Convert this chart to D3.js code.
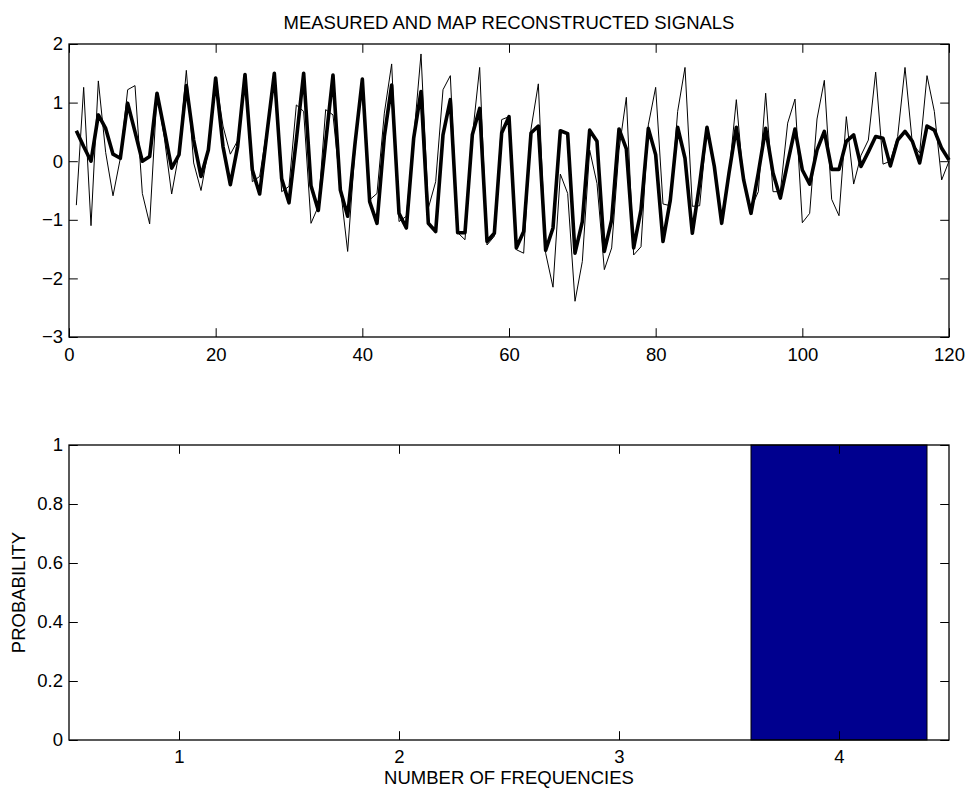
<!DOCTYPE html>
<html>
<head>
<meta charset="utf-8">
<script src="https://cdn.jsdelivr.net/npm/d3@7/dist/d3.min.js"></script>
<style>
  html, body { margin: 0; padding: 0; background: #fff; }
  svg { display: block; }
  text { font-family: "Liberation Sans", Arial, sans-serif; fill: #000; }
</style>
</head>
<body>
<svg id="chart" width="969" height="792"></svg>
<script>
// ---------------- DATA ----------------
const measured = [
  -0.75, 1.26, -1.10, 1.37, 0.15, -0.59, 0.05, 1.22, 1.29, -0.55,
  -1.07, 1.16, 0.40, -0.56, 0.14, 1.55, -0.03, -0.50, 0.19, 1.43,
  0.60, 0.12, 0.35, 1.48, -0.35, -0.26, 0.55, 1.50, -0.52, -0.43,
  0.96, 0.85, -1.06, -0.77, 0.88, 0.79, -0.45, -1.54, 0.20, 1.40,
  -0.66, -0.55, 0.82, 1.66, -1.03, -0.94, 0.39, 1.83, -0.80, -0.35,
  1.22, 1.46, -1.22, -1.34, 0.42, 1.60, -1.43, -1.28, 0.71, 0.76,
  -1.51, -1.57, 0.55, 1.32, -1.57, -2.15, -0.22, -0.55, -2.39, -1.71,
  0.19, -0.38, -1.85, -1.48, 0.19, 1.09, -1.60, -1.46, 0.62, 1.26,
  -0.73, -0.76, 0.85, 1.60, -0.77, -0.76, 0.58, -0.05, -1.06, -0.22,
  1.05, -0.38, -0.80, -0.52, 1.16, -0.52, -0.52, 0.65, 1.06, -1.05,
  -0.89, 0.72, 1.38, -0.65, -0.93, 0.76, -0.39, 0.10, 0.36, 1.52,
  -0.05, 0.00, 0.42, 1.60, 0.31, 0.14, 1.46, 0.85, -0.32, 0.00
];
const reconstructed = [
  0.52, 0.25, 0.00, 0.79, 0.56, 0.12, 0.05, 0.99, 0.50, 0.00,
  0.08, 1.16, 0.53, -0.12, 0.11, 1.29, 0.36, -0.26, 0.19, 1.42,
  0.25, -0.40, 0.25, 1.48, -0.15, -0.56, 0.48, 1.50, -0.30, -0.71,
  0.36, 1.50, -0.42, -0.84, 0.32, 1.47, -0.49, -0.94, 0.30, 1.40,
  -0.69, -1.06, 0.42, 1.30, -0.89, -1.14, 0.39, 1.19, -1.06, -1.20,
  0.45, 1.05, -1.22, -1.22, 0.45, 0.90, -1.37, -1.23, 0.48, 0.76,
  -1.48, -1.20, 0.48, 0.60, -1.52, -1.14, 0.52, 0.47, -1.57, -1.03,
  0.53, 0.34, -1.54, -1.00, 0.55, 0.21, -1.48, -0.83, 0.56, 0.11,
  -1.37, -0.66, 0.58, 0.05, -1.23, -0.38, 0.58, -0.09, -1.06, -0.20,
  0.58, -0.32, -0.89, -0.20, 0.56, -0.20, -0.63, -0.03, 0.55, -0.15,
  -0.39, 0.19, 0.51, -0.14, -0.14, 0.34, 0.45, -0.09, 0.16, 0.42,
  0.39, -0.08, 0.36, 0.51, 0.34, -0.03, 0.60, 0.53, 0.22, 0.02
];
const sampleIndex = d3.range(1, 121);

const topXTicks = [0, 20, 40, 60, 80, 100, 120];
const topYTicks = [-3, -2, -1, 0, 1, 2];

const numFrequencies = [1, 2, 3, 4];
const probability = [0, 0, 0, 1];
const botYTicks = [0, 0.2, 0.4, 0.6, 0.8, 1];

const titleText = "MEASURED AND MAP RECONSTRUCTED SIGNALS";
const xLabelText = "NUMBER OF FREQUENCIES";
const yLabelText = "PROBABILITY";

// ---------------- LAYOUT ----------------
const svg = d3.select("#chart");
const L = 69, R = 949;
const topT = 44, topB = 337;
const botT = 445, botB = 740;
const tick = 8.8;
const fontSize = 18.5;
const fmt = v => (v < 0 ? "\u2212" + Math.abs(v) : String(v));

function styleAxis(g) {
  g.selectAll(".domain").remove();
  g.selectAll(".tick line").attr("stroke", "#000").attr("stroke-width", 1);
  g.selectAll("text")
    .style("font-family", '"Liberation Sans", Arial, sans-serif')
    .style("font-size", fontSize + "px")
    .attr("fill", "#000");
}

function boxAxes(x, y, xt, yt, t, b, xfmt, yfmt, xpad) {
  svg.append("g").attr("transform", `translate(0,${b})`)
    .call(d3.axisBottom(x).tickValues(xt).tickSize(-tick).tickSizeOuter(0).tickPadding(xpad).tickFormat(xfmt))
    .call(styleAxis);
  svg.append("g").attr("transform", `translate(0,${t})`)
    .call(d3.axisTop(x).tickValues(xt).tickSize(-tick).tickSizeOuter(0).tickFormat(""))
    .call(styleAxis);
  svg.append("g").attr("transform", `translate(${L},0)`)
    .call(d3.axisLeft(y).tickValues(yt).tickSize(-tick).tickSizeOuter(0).tickPadding(6).tickFormat(yfmt))
    .call(styleAxis);
  svg.append("g").attr("transform", `translate(${R},0)`)
    .call(d3.axisRight(y).tickValues(yt).tickSize(-tick).tickSizeOuter(0).tickFormat(""))
    .call(styleAxis);
  svg.append("rect")
    .attr("x", L).attr("y", t).attr("width", R - L).attr("height", b - t)
    .attr("fill", "none").attr("stroke", "#000").attr("stroke-width", 1.3);
}

// ---------------- TOP PLOT ----------------
const xTop = d3.scaleLinear().domain([0, 120]).range([L, R]);
const yTop = d3.scaleLinear().domain([-3, 2]).range([topB, topT]);

const line = d3.line().x((d, i) => xTop(sampleIndex[i])).y(d => yTop(d));

svg.append("path").datum(measured)
  .attr("d", line).attr("fill", "none").attr("stroke", "#000")
  .attr("stroke-width", 1).attr("stroke-linejoin", "round");
svg.append("path").datum(reconstructed)
  .attr("d", line).attr("fill", "none").attr("stroke", "#000")
  .attr("stroke-width", 3.6).attr("stroke-linejoin", "round");

boxAxes(xTop, yTop, topXTicks, topYTicks, topT, topB, d => String(d), fmt, 11);

svg.append("text")
  .attr("x", (L + R) / 2).attr("y", 29)
  .attr("text-anchor", "middle")
  .style("font-size", fontSize + "px")
  .text(titleText);

// ---------------- BOTTOM PLOT ----------------
const xBot = d3.scaleLinear().domain([0.5, 4.5]).range([L, R]);
const yBot = d3.scaleLinear().domain([0, 1]).range([botB, botT]);
const barW = 0.8;

svg.append("g").selectAll("rect")
  .data(numFrequencies.map((n, i) => ({ n, p: probability[i] })))
  .join("rect")
  .attr("x", d => xBot(d.n - barW / 2))
  .attr("width", d => xBot(d.n + barW / 2) - xBot(d.n - barW / 2))
  .attr("y", d => yBot(d.p))
  .attr("height", d => yBot(0) - yBot(d.p))
  .attr("fill", "#00008F")
  .attr("stroke", "#000")
  .attr("stroke-width", 1);

boxAxes(xBot, yBot, numFrequencies, botYTicks, botT, botB, d => String(d), d => String(d), 10);

svg.append("text")
  .attr("x", (L + R) / 2).attr("y", 784)
  .attr("text-anchor", "middle")
  .style("font-size", fontSize + "px")
  .text(xLabelText);

svg.append("text")
  .attr("transform", `translate(25,${(botT + botB) / 2}) rotate(-90)`)
  .attr("text-anchor", "middle")
  .style("font-size", fontSize + "px")
  .text(yLabelText);
</script>
</body>
</html>
